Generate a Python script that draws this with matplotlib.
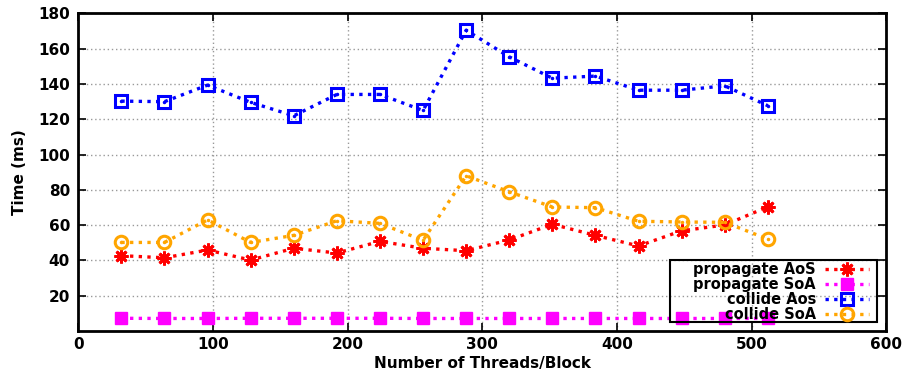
import numpy as np
import matplotlib.pyplot as plt
from matplotlib.patches import Rectangle

# threads per block tested
threads = [32, 64, 96, 128, 160, 192, 224, 256, 288, 320, 352, 384, 416, 448, 480, 512]

# kernel timings (ms)
propagate_aos = [42.7, 41.5, 45.9, 40.2, 46.9, 44.2, 50.8, 46.9, 45.5, 51.6, 60.5, 54.2, 48.2, 56.8, 60.1, 70.4]
propagate_soa = [7.2, 7.1, 7.1, 7.2, 7.2, 7.2, 7.2, 7.1, 7.1, 7.1, 7.1, 7.1, 7.1, 7.1, 7.1, 7.1]
collide_aos = [130.3, 130.0, 139.4, 129.6, 122.0, 134.1, 134.1, 125.0, 170.5, 155.4, 143.3, 144.5, 136.5, 136.5, 139.0, 127.7]
collide_soa = [50.2, 50.2, 63.0, 50.2, 54.2, 62.5, 61.0, 51.4, 88.0, 78.9, 70.3, 69.9, 62.2, 61.8, 61.6, 52.1]

plt.rcParams['font.family'] = 'DejaVu Sans'
plt.rcParams['font.weight'] = 'bold'

fig = plt.figure(figsize=(9.09, 3.74), dpi=100)
ax = fig.add_axes([0.0861, 0.115, 0.889, 0.849])

ls = (0, (1, 1.6))
lw = 2.4

ax.plot(threads, propagate_aos, color='#ff0000', linestyle=ls, linewidth=lw,
        marker=(8, 2, 0), markersize=10, markeredgewidth=2.0, label='propagate AoS')
ax.plot(threads, propagate_soa, color='#ff00ff', linestyle=ls, linewidth=lw,
        marker='s', markersize=8.5, label='propagate SoA')
ax.plot(threads, collide_aos, color='#0000ff', linestyle=ls, linewidth=lw,
        marker='s', markersize=9, markerfacecolor='none', markeredgewidth=2.2,
        label='collide Aos')
ax.plot(threads, collide_soa, color='#ffa500', linestyle=ls, linewidth=lw,
        marker='o', markersize=9, markerfacecolor='none', markeredgewidth=2.2,
        label='collide SoA')

# gnuplot-style centre dot on the open markers
ax.plot(threads, collide_aos, linestyle='none', marker='.', markersize=3, color='#0000ff')
ax.plot(threads, collide_soa, linestyle='none', marker='.', markersize=3, color='#ffa500')

ax.set_xlim(0, 600)
ax.set_ylim(0, 180)
ax.set_xticks(np.arange(0, 601, 100))
ax.set_yticks(np.arange(20, 181, 20))
ax.tick_params(direction='in', length=6, width=1.2, labelsize=11,
               top=True, right=True, pad=4)
ax.tick_params(axis='y', pad=6)
for lab in ax.get_xticklabels() + ax.get_yticklabels():
    lab.set_fontweight('bold')
ax.grid(True, color='#999999', linestyle=(0, (1, 2)), linewidth=1)
for sp in ax.spines.values():
    sp.set_linewidth(2)

ax.set_xlabel('Number of Threads/Block', fontsize=11, fontweight='bold', labelpad=3)
ax.set_ylabel('Time (ms)', fontsize=11, fontweight='bold', labelpad=8)

# key without its own frame; the box is drawn separately so it can be wider
leg = ax.legend(loc='lower right', bbox_to_anchor=(0.978, 0.028), borderaxespad=0,
                markerfirst=False, frameon=False,
                prop={'weight': 'bold', 'size': 10.5}, handlelength=3.0,
                labelspacing=0.0, handletextpad=0.6, borderpad=0)
ax.add_patch(Rectangle((0.732, 0.029), 0.257, 0.194, transform=ax.transAxes,
                       fill=False, edgecolor='black', linewidth=1.5, zorder=5))

fig.savefig('out.png', dpi=100)
